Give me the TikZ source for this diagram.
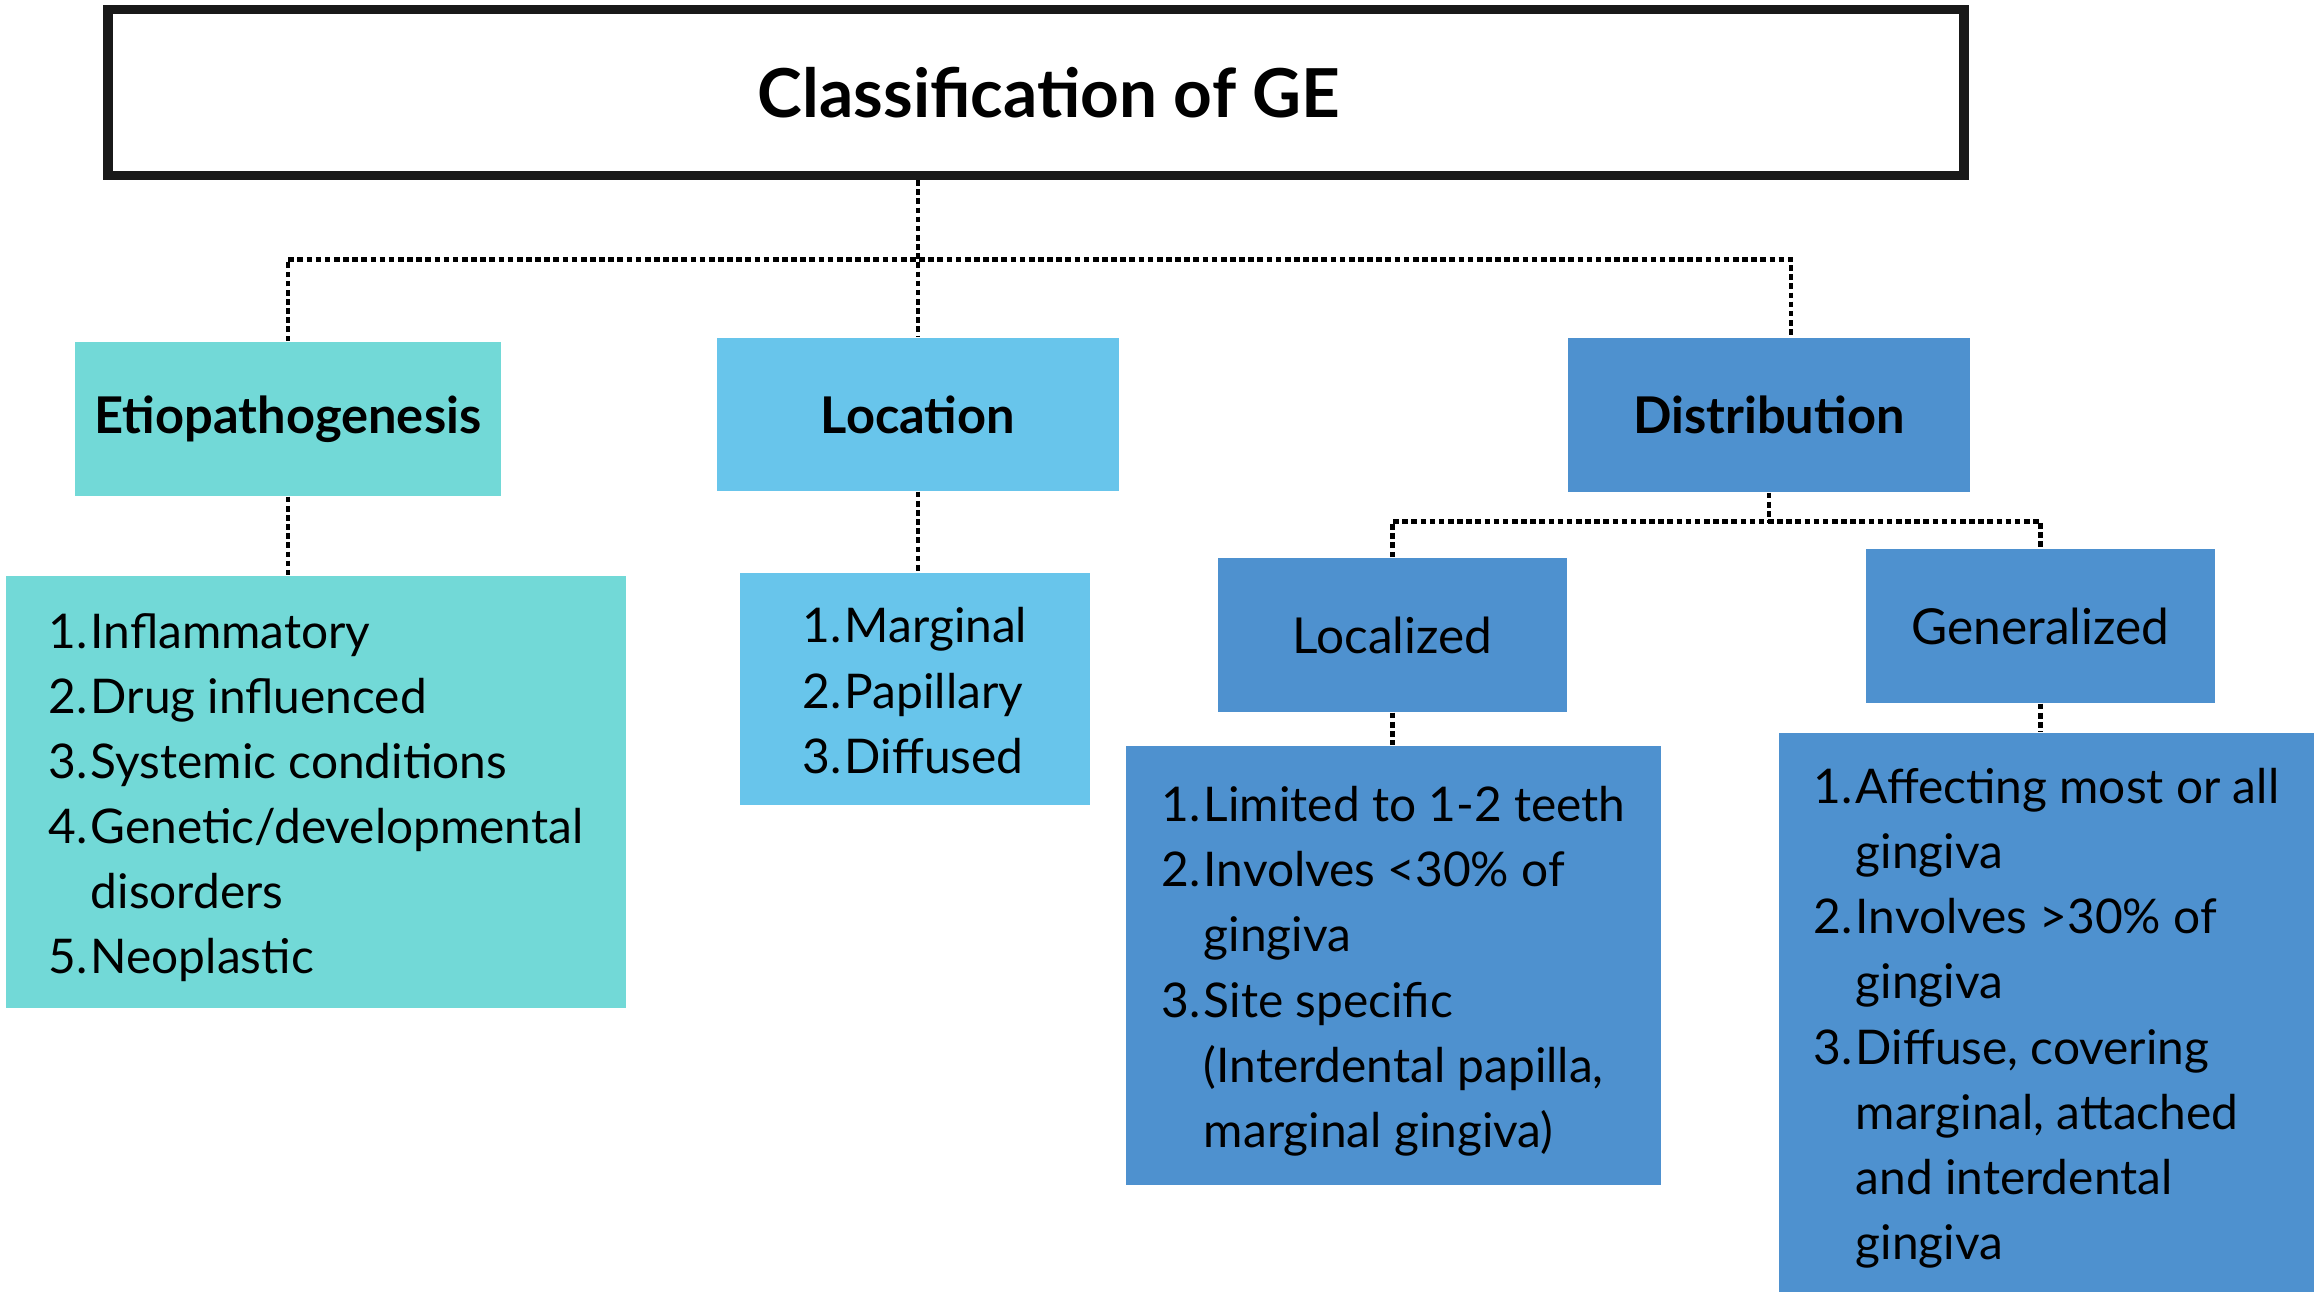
\documentclass[tikz,border=0pt]{standalone}
\usepackage{fontspec}
\setmainfont{Lato}
\usepackage{array}

\definecolor{etiocol}{RGB}{114,217,215}
\definecolor{loccol}{RGB}{104,197,235}
\definecolor{distcol}{RGB}{78,145,207}

\tikzset{
  headbox/.style={draw=black!90, line width=2.6pt, fill=white, inner sep=0pt,
    font=\fontsize{19.2}{24}\selectfont\bfseries},
  catbox/.style={inner sep=0pt, font=\fontsize{14.4}{17}\selectfont\bfseries},
  subbox/.style={inner sep=0pt, fill=distcol, font=\fontsize{14.1}{17}\selectfont},
  listbox/.style={inner sep=0pt, font=\fontsize{13.6}{18.5}\selectfont},
  link/.style={line width=1.35pt, dash pattern=on 1.6pt off 1pt},
}

\newcommand{\numlist}[1]{\raisebox{-0.06cm}[\height][\depth]{\begin{tabular}{@{}p{0.42cm}@{}l@{}}#1\end{tabular}}}

\begin{document}
\begin{tikzpicture}[x=0.01cm, y=-0.01cm]

\useasboundingbox (0,0) rectangle (2317,1298);

\def\ybus{82};
\def\ysub{36};

\node[headbox, minimum width=18.55cm, minimum height=1.66cm] (head) at (1036,92.5) {\hspace*{0.26cm}Classification of GE};

% first level
\node[catbox, fill=etiocol, minimum width=4.26cm, minimum height=1.54cm] (etio) at (288,419) {Etiopathogenesis};
\node[catbox, fill=loccol, minimum width=4.02cm, minimum height=1.53cm] (loc) at (918,414.5) {Location};
\node[catbox, fill=distcol, minimum width=4.02cm, minimum height=1.54cm] (dist) at (1769,415) {Distribution};

% second level
\node[subbox, minimum width=3.49cm, minimum height=1.54cm] (locz) at (1392.5,635) {Localized};
\node[subbox, minimum width=3.49cm, minimum height=1.54cm] (genz) at (2040.5,626) {Generalized};

% lists
\node[listbox, fill=etiocol, minimum width=6.20cm, minimum height=4.32cm] (etiolist) at (316,792) {\numlist{
  1. & Inflammatory\\
  2. & Drug influenced\\
  3. & Systemic conditions\\
  4. & Genetic/developmental\\
     & disorders\\
  5. & Neoplastic}};

\node[listbox, fill=loccol, minimum width=3.50cm, minimum height=2.32cm] (loclist) at (915,689) {\numlist{
  1. & Marginal\\
  2. & Papillary\\
  3. & Diffused}};

\node[listbox, fill=distcol, minimum width=5.35cm, minimum height=4.39cm] (loczlist) at (1393.5,965.5) {\numlist{
  1. & Limited to 1-2 teeth\\
  2. & Involves <30\% of\\
     & gingiva\\
  3. & Site specific\\
     & (Interdental papilla,\\
     & marginal gingiva)}};

\node[listbox, fill=distcol, minimum width=5.35cm, minimum height=5.59cm] (genzlist) at (2046.5,1012.5) {\numlist{
  1. & Affecting most or all\\
     & gingiva\\
  2. & Involves >30\% of\\
     & gingiva\\
  3. & Diffuse, covering\\
     & marginal, attached\\
     & and interdental\\
     & gingiva}};

% connectors
\draw[link] (head.south -| loc.north) -- (loc.north);
\draw[link] (etio.north) -- ++(0,-\ybus) -| ([xshift=0.22cm]dist.north);
\draw[link] (dist.south) -- ++(0,\ysub-6);
\draw[link] (locz.north) -- ++(0,-\ysub) -| (genz.north);

\draw[link] (etio.south) -- (etio.south |- etiolist.north);
\draw[link] (loc.south) -- (loc.south |- loclist.north);
\draw[link] (locz.south) -- (locz.south |- loczlist.north);
\draw[link] (genz.south) -- (genz.south |- genzlist.north);

\end{tikzpicture}
\end{document}
